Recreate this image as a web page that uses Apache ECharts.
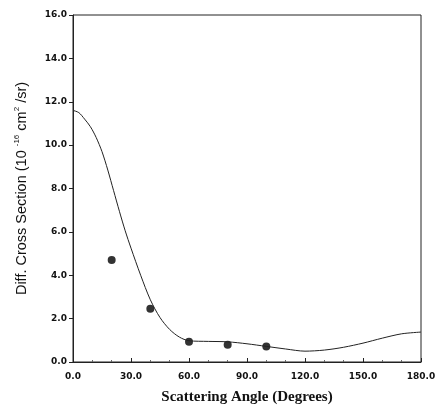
<!DOCTYPE html>
<html><head><meta charset="utf-8">
<script src="https://cdn.jsdelivr.net/npm/echarts@6/dist/echarts.min.js"></script>
<style>html,body{margin:0;padding:0;background:#fff}#c{width:439px;height:409px}</style>
</head><body><div id="c"></div>
<script>
var curveAngles = [0, 3, 6, 9, 12, 15, 18, 21, 24, 27, 30, 35, 40, 45, 50, 55, 60, 70, 80, 90, 100, 110, 120, 130, 140, 150, 160, 170, 180];
var curveValues = [11.6, 11.5, 11.2, 10.85, 10.35, 9.7, 8.85, 7.9, 6.95, 6.05, 5.25, 4.0, 2.87, 2.05, 1.5, 1.15, 0.98, 0.95, 0.93, 0.84, 0.72, 0.6, 0.5, 0.55, 0.68, 0.87, 1.1, 1.3, 1.38];
var pointAngles = [20, 40, 60, 80, 100];
var pointValues = [4.7, 2.45, 0.93, 0.8, 0.72];
var xTicks = [0, 30, 60, 90, 120, 150, 180];
var yTicks = [0, 2, 4, 6, 8, 10, 12, 14, 16];

var chart = echarts.init(document.getElementById('c'));
var lbl = {color:'#111', fontSize:9, fontWeight:'bold', fontFamily:'DejaVu Sans'};
chart.setOption({
  animation:false,
  grid:{left:73, right:18, top:15, bottom:47, show:true, borderColor:'#222', borderWidth:1, containLabel:false, outerBoundsMode:'none'},
  xAxis:{type:'value', min:0, max:180, interval:30,
    name:'Scattering Angle (Degrees)', nameLocation:'middle', nameGap:28,
    nameTextStyle:{fontFamily:'Liberation Serif', fontWeight:'bold', fontSize:15, color:'#111'},
    axisLine:{lineStyle:{color:'#222'}}, axisTick:{inside:true, length:4, lineStyle:{color:'#222'}},
    minorTick:{show:true, splitNumber:3, length:2, lineStyle:{color:'#666'}},
    splitLine:{show:false},
    axisLabel:Object.assign({margin:10, formatter:function(v){return v.toFixed(1);}}, lbl)},
  yAxis:{type:'value', min:0, max:16, interval:2,
    name:'{a|Diff. Cross Section (10 }{s|-16}{a| cm}{s|2}{a| /sr)}', nameLocation:'middle', nameGap:42, nameRotate:90,
    nameTextStyle:{rich:{
      a:{fontFamily:'Liberation Sans', fontSize:14.5, color:'#111'},
      s:{fontFamily:'Liberation Sans', fontSize:8, color:'#111', padding:[0,0,10,0]}}},
    axisLine:{lineStyle:{color:'#222'}}, axisTick:{inside:false, length:4, lineStyle:{color:'#222'}},
    splitLine:{show:false},
    axisLabel:Object.assign({margin:6, formatter:function(v){return v.toFixed(1);}}, lbl)},
  series:[
    {type:'line', smooth:0.3, symbol:'none', data:curveAngles.map(function(a,i){return [a, curveValues[i]];}),
      lineStyle:{color:'#222', width:1}},
    {type:'scatter', symbol:'circle', symbolSize:8, data:pointAngles.map(function(a,i){return [a, pointValues[i]];}),
      itemStyle:{color:'#000'}}
  ]
});
</script></body></html>
